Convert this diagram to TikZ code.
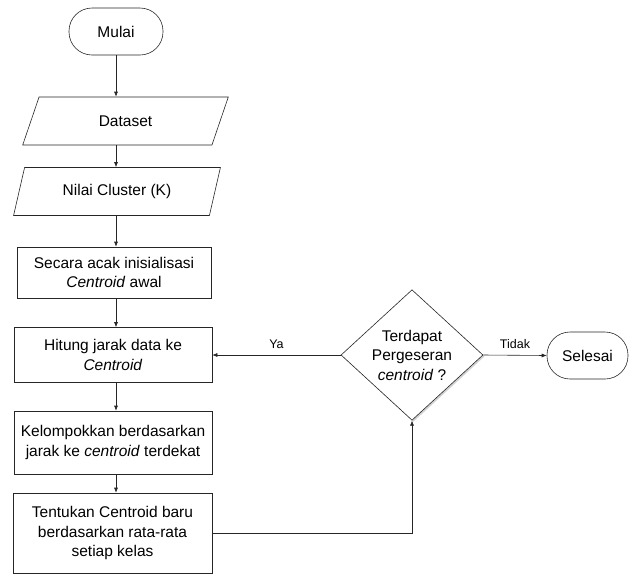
\documentclass[tikz,border=0pt]{standalone}
\usepackage{fontspec}
\setmainfont{Liberation Sans}
\usetikzlibrary{arrows.meta}
\usetikzlibrary{shapes.geometric}
\usetikzlibrary{shadows}
\tikzstyle{terminal} = [rectangle, draw, rounded corners=23pt, minimum height=47pt, align=center]
\tikzstyle{io} = [trapezium, draw, trapezium left angle=72, trapezium right angle=108,
trapezium stretches=true, minimum width=207pt, minimum height=48pt, align=center]
\tikzstyle{block} = [rectangle, draw, minimum width=198pt, align=center]
\tikzstyle{decision} = [diamond, draw, fill=white, minimum width=142pt, minimum height=123pt, inner sep=0pt, align=center,
drop shadow={shadow xshift=1.5pt, shadow yshift=-1.5pt, fill=black!35}]
\tikzstyle{line} = [draw, -{Latex[length=5pt,width=4pt]}]
\tikzstyle{label} = [font=\fontsize{12.5}{14}\selectfont]

\begin{document}
\begin{tikzpicture}[x=1pt, y=-1pt, every node/.style={font=\fontsize{15.5}{19.5}\selectfont, draw=black!85},
  line width=0.6pt]
\useasboundingbox (0,0) rectangle (631,574);
\node [terminal, minimum width=94pt] (mulai) at (116,31.5) {Mulai};
\node [io] (dataset) at (125.5,121) {Dataset};
\node [io] (cluster) at (117,191.5) {Nilai Cluster (K)};
\node [block, minimum width=194pt, minimum height=51pt] (acak) at (114,272.5) {Secara acak inisialisasi\\\textit{Centroid} awal};
\node [block, minimum height=55pt] (hitung) at (113,355) {Hitung jarak data ke\\\textit{Centroid}};
\node [block, minimum height=63pt] (kelompok) at (113,442.5) {Kelompokkan berdasarkan\\jarak ke \textit{centroid} terdekat};
\node [block, minimum width=199pt, minimum height=80pt] (tentukan) at (112.5,533) {Tentukan Centroid baru\\berdasarkan rata-rata\\setiap kelas};
\node [decision] (cek) at (412,355) {Terdapat\\Pergeseran\\\textit{centroid} ?};
\node [terminal, minimum width=81pt] (selesai) at (587.5,355.5) {Selesai};
% alur utama
\path [line, black!85] (mulai) -- (mulai |- dataset.north);
\path [line, black!85] (mulai |- dataset.south) -- (mulai |- cluster.north);
\path [line, black!85] (mulai |- cluster.south) -- (mulai |- acak.north);
\path [line, black!85] (mulai |- acak.south) -- (mulai |- hitung.north);
\path [line, black!85] (mulai |- hitung.south) -- (mulai |- kelompok.north);
\path [line, black!85] (mulai |- kelompok.south) -- (mulai |- tentukan.north);
\path [line, black!85] (tentukan.east) -| (cek.south);
\path [line, black!85] (cek.west) -- node [label, draw=none, above=3pt, black] {Ya} (hitung.east);
\path [line, black!85] (cek.east) -- node [label, draw=none, above=3pt, black] {Tidak} (selesai.west);
\end{tikzpicture}
\end{document}
